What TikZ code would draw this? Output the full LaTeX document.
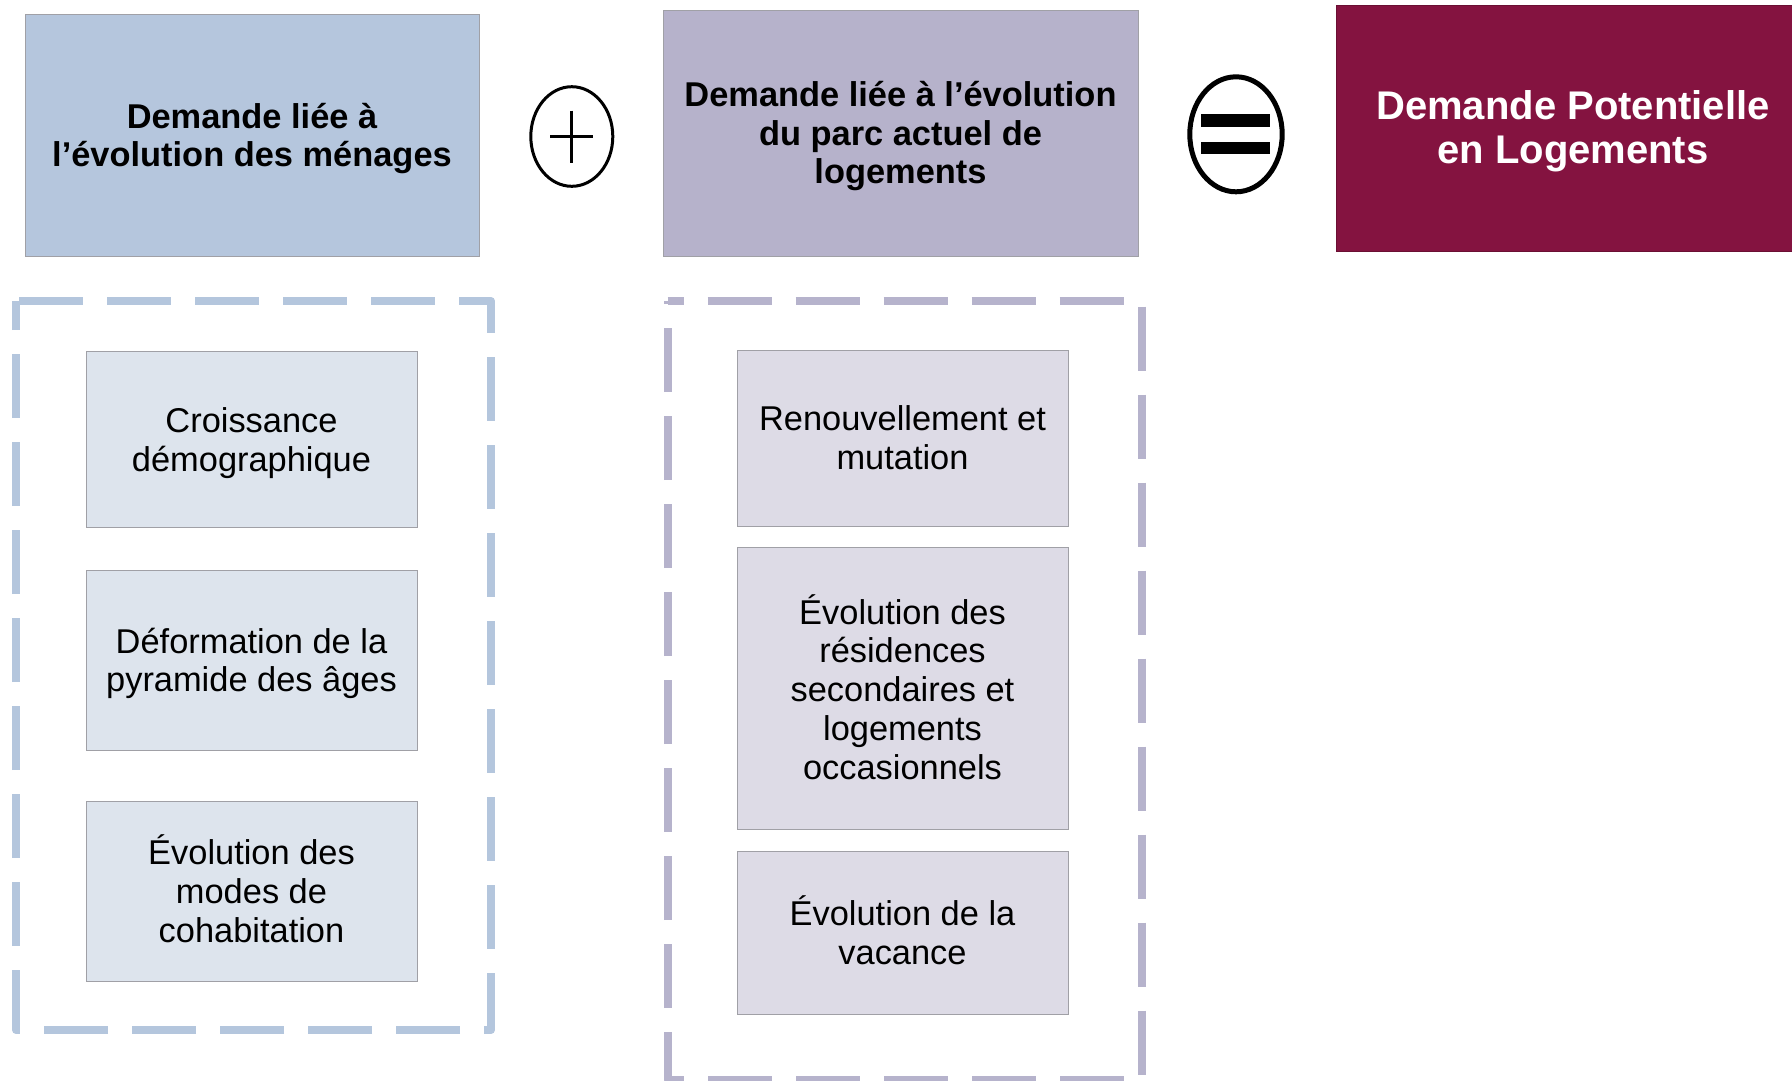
\documentclass[tikz,border=0pt]{standalone}
\usepackage{fontspec}
\setmainfont{Liberation Sans}
\usetikzlibrary{shapes.geometric}
\definecolor{hdrA}{HTML}{B5C6DD}
\definecolor{hdrB}{HTML}{B6B2CB}
\definecolor{hdrC}{HTML}{841340}
\definecolor{subA}{HTML}{DDE4ED}
\definecolor{subB}{HTML}{DDDBE6}
\definecolor{dashA}{HTML}{B4C6DD}
\definecolor{dashB}{HTML}{B6B3CC}
\definecolor{edge}{HTML}{A0A0A6}
\begin{document}
\begin{tikzpicture}[x=1pt,y=-1pt,
  hdr/.style={draw=edge, line width=1pt, inner sep=0pt},
  hdrtxt/.style={inner sep=0pt, align=center,
    font=\fontsize{34.4}{38.5}\selectfont\bfseries},
  subbox/.style={draw=edge, line width=1pt, inner sep=0pt, minimum width=331pt},
  subtxt/.style={inner sep=0pt, align=center, font=\fontsize{34.4}{38.8}\selectfont},
  grp/.style={line width=8pt, dash pattern=on 64pt off 24pt, line join=round},
  sym/.style={draw=black, ellipse, inner sep=0pt}]
\useasboundingbox (0,0) rectangle (1792,1080);

% dashed groups
\coordinate (ga1) at (16,301);
\coordinate (ga2) at (491,301);
\coordinate (ga3) at (491,1030);
\coordinate (ga4) at (16,1030);
\draw[grp, draw=dashA, dash phase=85pt] (ga1) -- (ga2) -- (ga3) -- (ga4) -- cycle;
\coordinate (gb1) at (667.5,301);
\coordinate (gb2) at (1142,301);
\coordinate (gb3) at (1142,1080);
\coordinate (gb4) at (667.5,1080);
\draw[grp, draw=dashB, dash phase=48pt] (gb1) -- (gb2) -- (gb3) -- (gb4) -- cycle;

% headers
\node[hdr, fill=hdrA, minimum width=454pt, minimum height=242pt,
  label={[hdrtxt, yshift=-3.4pt]center:{Demande liée à\\l’évolution des ménages}}] (hA) at (252,135) {};
\node[hdr, fill=hdrB, minimum width=475pt, minimum height=246pt,
  label={[hdrtxt, yshift=-3.4pt]center:{Demande liée à l’évolution\\du parc actuel de\\logements}}] (hB) at (900.5,133) {};
\node[hdr, draw=hdrC!80!black, fill=hdrC, minimum width=474pt, minimum height=246pt,
  label={[hdrtxt, text=white, yshift=-3.4pt, font=\fontsize{40}{44}\selectfont\bfseries]center:{Demande Potentielle\\en Logements}}] (hC) at (1573,128) {};

% plus symbol
\node[sym, line width=3pt, minimum width=82pt, minimum height=99.6pt] (plus) at (571.8,136.5) {};
\draw[line width=3pt] ([xshift=-21.5pt]plus.center) -- ([xshift=21.5pt]plus.center);
\draw[line width=3pt] ([yshift=26pt]plus.center) -- ([yshift=-26pt]plus.center);

% equals symbol
\node[sym, line width=5pt, minimum width=92.4pt, minimum height=115pt] (eq) at (1236,134.3) {};
\fill ([xshift=-35.5pt,yshift=20pt]eq.center) rectangle ([xshift=34pt,yshift=7.8pt]eq.center);
\fill ([xshift=-35.5pt,yshift=-7.6pt]eq.center) rectangle ([xshift=34pt,yshift=-20pt]eq.center);

% left sub boxes
\node[subbox, fill=subA, minimum height=176pt,
  label={[subtxt, yshift=-4pt]center:{Croissance\\démographique}}] (a1) at (251.5,439) {};
\node[subbox, fill=subA, minimum height=180pt,
  label={[subtxt, yshift=-3.4pt]center:{Déformation de la\\pyramide des âges}}] (a2) at (251.5,660) {};
\node[subbox, fill=subA, minimum height=180pt,
  label={[subtxt, yshift=2.3pt]center:{Évolution des\\modes de\\cohabitation}}] (a3) at (251.5,891) {};

% right sub boxes
\node[subbox, fill=subB, minimum height=176pt,
  label={[subtxt, yshift=0pt]center:{Renouvellement et\\mutation}}] (b1) at (902.5,438) {};
\node[subbox, fill=subB, minimum height=282pt,
  label={[subtxt, yshift=1.1pt]center:{Évolution des\\résidences\\secondaires et\\logements\\occasionnels}}] (b2) at (902.5,688) {};
\node[subbox, fill=subB, minimum height=163pt,
  label={[subtxt, yshift=2.3pt]center:{Évolution de la\\vacance}}] (b3) at (902.5,932.5) {};
\end{tikzpicture}
\end{document}
